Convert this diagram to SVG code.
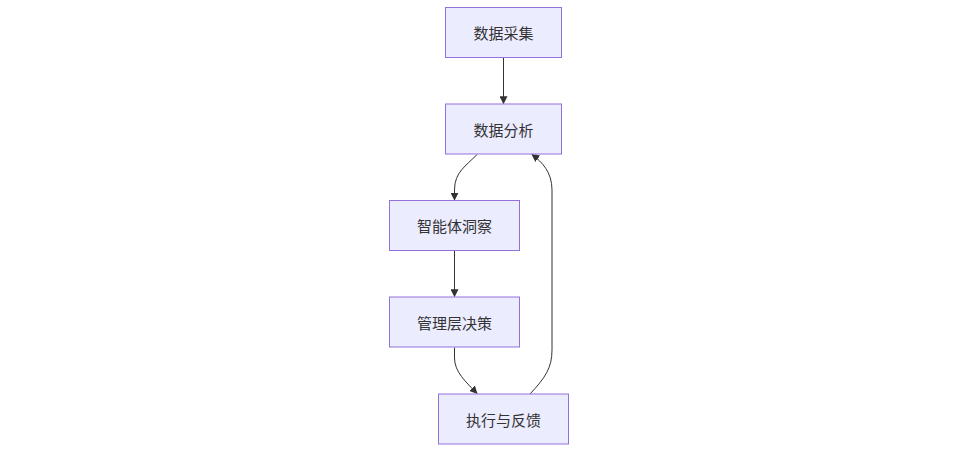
<svg xmlns="http://www.w3.org/2000/svg" width="960" height="455" viewBox="0 0 960 455">
<style>
.node rect{fill:#ECECFF;stroke:#9370DB;stroke-width:1}
.node text{font-family:"Noto Sans CJK SC","Noto Sans",sans-serif;font-size:15px;fill:#333333;text-anchor:middle;dominant-baseline:central}
.edge{fill:none;stroke:#333333;stroke-width:1}
</style>
<defs>
<marker id="arrow" viewBox="0 0 10 10" refX="9" refY="5" markerWidth="8" markerHeight="8" markerUnits="userSpaceOnUse" orient="auto">
<path d="M0,0 L10,5 L0,10 z" fill="#333333"/>
</marker>
</defs>
<rect width="960" height="455" fill="#ffffff"/>
<g id="connectors">
<path class="edge" d="M503.5,57.5 L503.5,103.5" marker-end="url(#arrow)"/>
<path class="edge" d="M477,154.5 C466,166 454.5,172 454.5,190 L454.5,200" marker-end="url(#arrow)"/>
<path class="edge" d="M454.5,250.5 L454.5,296.5" marker-end="url(#arrow)"/>
<path class="edge" d="M454.5,347.5 L454.5,358 C454.5,372 466,382 477,393.5" marker-end="url(#arrow)"/>
<path class="edge" d="M530,394 C545,378 552,368 552,350 L552,190 C552,172 542,162 532,154.5" marker-end="url(#arrow)"/>
</g>
<g id="node1" class="node"><rect x="445.5" y="7.5" width="116" height="50"/><text x="503.5" y="32.5">数据采集</text></g>
<g id="node2" class="node"><rect x="445.5" y="104" width="116" height="50"/><text x="503.5" y="129">数据分析</text></g>
<g id="node3" class="node"><rect x="389.5" y="200.5" width="130" height="50"/><text x="454.5" y="225.5">智能体洞察</text></g>
<g id="node4" class="node"><rect x="389.5" y="297" width="130" height="50"/><text x="454.5" y="322">管理层决策</text></g>
<g id="node5" class="node"><rect x="438.5" y="394" width="130" height="50"/><text x="503.5" y="419">执行与反馈</text></g>
</svg>
